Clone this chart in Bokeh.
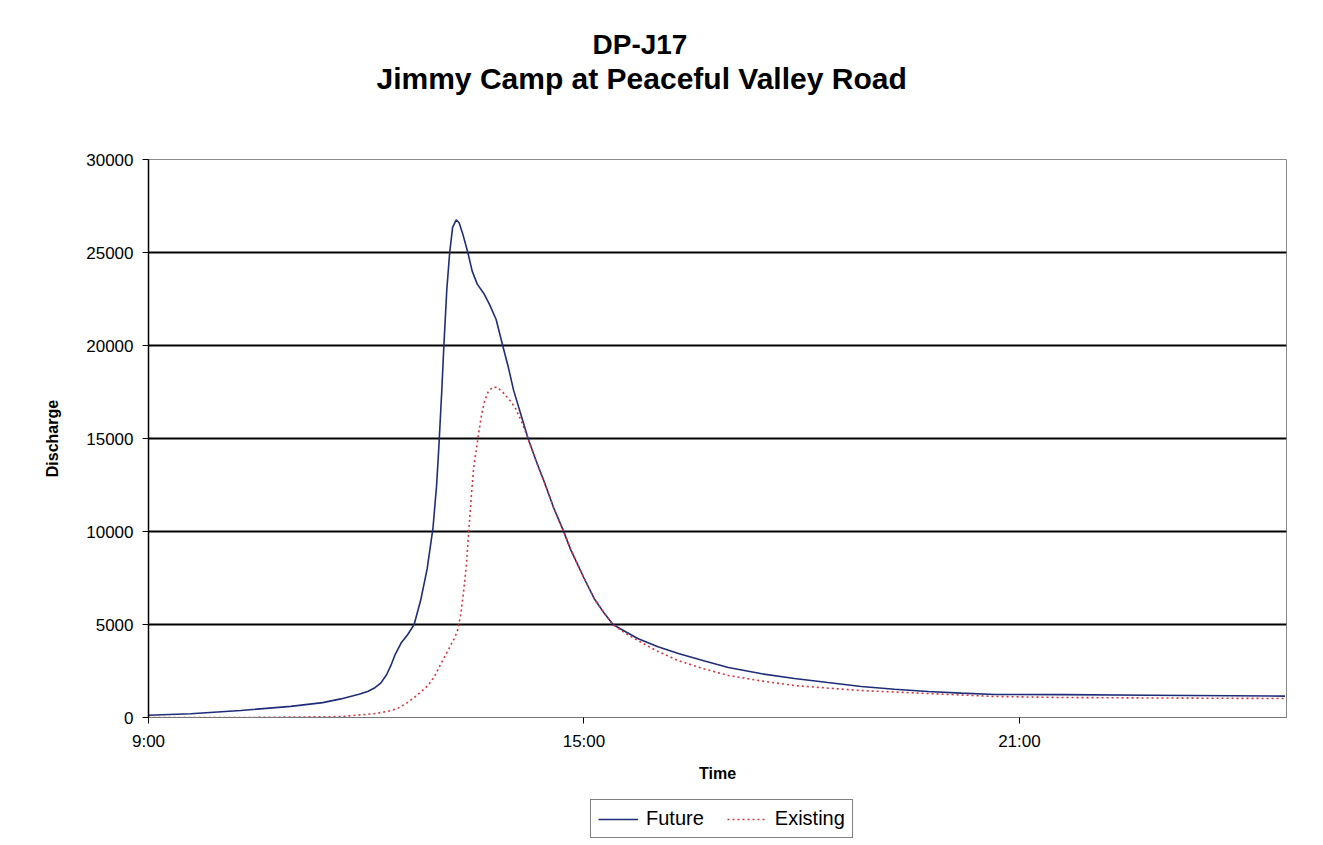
from bokeh.plotting import figure
from bokeh.models import Range1d, FixedTicker, Legend, LegendItem, Title
from bokeh.layouts import column
from bokeh.embed import file_html
from bokeh.resources import INLINE

# ---- data (time in decimal hours, discharge) ----
future_time = [9.00, 9.58, 10.27, 10.96, 11.40, 11.65, 11.90, 12.02, 12.12, 12.20,
               12.28, 12.34, 12.40, 12.48, 12.57, 12.66, 12.75, 12.84, 12.92, 12.97,
               13.00, 13.04, 13.07, 13.11, 13.15, 13.19, 13.24, 13.28, 13.33, 13.40,
               13.46, 13.53, 13.62, 13.70, 13.79, 13.88, 13.96, 14.03, 14.13, 14.23,
               14.34, 14.45, 14.58, 14.71, 14.82, 15.00, 15.14, 15.28, 15.40, 15.58,
               15.74, 16.02, 16.30, 16.65, 16.99, 17.45, 17.90, 18.36, 18.82, 19.28,
               19.74, 20.20, 20.66, 21.58, 22.80, 24.66]
future_q = [120, 200, 380, 600, 800, 1000, 1250, 1400, 1600, 1850,
            2300, 2800, 3400, 4000, 4450, 5000, 6300, 8000, 10200, 12500,
            14500, 17500, 20000, 23000, 25000, 26350, 26750, 26600, 26000, 25000,
            24000, 23300, 22800, 22200, 21400, 20000, 18800, 17600, 16300, 15000,
            13800, 12700, 11300, 10100, 9000, 7500, 6400, 5600, 5000, 4600,
            4250, 3800, 3440, 3050, 2690, 2350, 2100, 1880, 1670, 1520,
            1400, 1310, 1240, 1230, 1200, 1150]

existing_time = [9.00, 10.41, 11.65, 12.10, 12.30, 12.43, 12.55, 12.66, 12.76, 12.85,
                 12.94, 13.03, 13.14, 13.22, 13.26, 13.30, 13.34, 13.38, 13.41, 13.45,
                 13.48, 13.52, 13.55, 13.59, 13.63, 13.68, 13.74, 13.80, 13.88, 13.99,
                 14.06, 14.13, 14.23, 14.34, 14.45, 14.58, 14.71, 14.82, 15.00, 15.14,
                 15.28, 15.40, 15.58, 15.74, 16.02, 16.30, 16.65, 16.99, 17.45, 17.90,
                 18.36, 18.82, 19.74, 20.66, 21.58, 22.80, 24.66]
existing_q = [0, 0, 50, 200, 330, 480, 750, 1070, 1400, 1720,
              2200, 2900, 3700, 4300, 4700, 5500, 6700, 8200, 9900, 12000,
              13400, 14500, 15300, 16300, 17000, 17500, 17750, 17750, 17500, 17000,
              16600, 16000, 15000, 13800, 12700, 11300, 10100, 9000, 7500, 6400,
              5600, 5000, 4500, 4140, 3550, 3060, 2620, 2260, 1960, 1720,
              1580, 1450, 1290, 1130, 1075, 1050, 1020]

series_names = ["Future", "Existing"]
x_ticks = [9, 15, 21]
x_tick_labels = ["9:00", "15:00", "21:00"]
y_ticks = [0, 5000, 10000, 15000, 20000, 25000, 30000]
grid_values = [5000, 10000, 15000, 20000, 25000]

FONT = "Liberation Sans"
FUTURE_COLOR = "#1f2d78"
EXIST_COLOR = "#d8343f"

p = figure(width=1323, height=795, output_backend="svg", toolbar_location=None,
           x_range=Range1d(9, 24.68), y_range=Range1d(0, 30000),
           min_border_left=148, min_border_right=37,
           min_border_top=159, min_border_bottom=78)

p.background_fill_color = "white"
p.border_fill_color = "white"
p.outline_line_color = "#8a8a8a"
p.outline_line_width = 1

# titles: above[0] is nearest the frame, p.title is outermost
p.add_layout(Title(text=" ", text_font=FONT, text_font_size="10px",
                   standoff=52), "above")
p.add_layout(Title(text="Jimmy Camp at Peaceful Valley Road", align="left",
                   text_font=FONT, text_font_size="30px", text_font_style="bold",
                   text_color="black", offset=228, standoff=0), "above")
p.title.text = "DP-J17"
p.title.align = "left"
p.title.text_font = FONT
p.title.text_font_size = "28px"
p.title.text_font_style = "bold"
p.title.text_color = "black"
p.title.offset = 444
p.title.standoff = 0

# axes
p.xaxis.ticker = FixedTicker(ticks=x_ticks)
p.xaxis.major_label_overrides = {t: l for t, l in zip(x_ticks, x_tick_labels)}
p.xaxis.axis_label = "Time"
p.yaxis.ticker = FixedTicker(ticks=y_ticks)
p.yaxis.axis_label = "Discharge"
for ax in (p.xaxis, p.yaxis):
    ax.major_label_text_font = FONT
    ax.major_label_text_font_size = "17px"
    ax.major_label_text_color = "black"
    ax.axis_label_text_font = FONT
    ax.axis_label_text_font_size = "16px"
    ax.axis_label_text_font_style = "bold"
    ax.axis_label_text_color = "black"
    ax.minor_tick_line_color = None
    ax.major_tick_in = 0
    ax.major_tick_out = 6
    ax.major_tick_line_color = "black"
p.yaxis.axis_line_color = "black"
p.yaxis.axis_line_width = 1.5
p.xaxis.axis_line_color = "#777777"
p.xaxis.axis_line_width = 1
p.yaxis.major_label_standoff = 9
p.yaxis.axis_label_standoff = 22
p.xaxis.major_label_standoff = 8
p.xaxis.axis_label_standoff = 11

# grid
p.xgrid.grid_line_color = None
p.ygrid.ticker = FixedTicker(ticks=grid_values)
p.ygrid.grid_line_color = "black"
p.ygrid.grid_line_width = 2

# lines
p.line(future_time, future_q, line_color=FUTURE_COLOR, line_width=1.6)
p.line(existing_time, existing_q, line_color=EXIST_COLOR, line_width=1.6,
       line_dash="2 3")

# legend strip below the chart (its sample lines lie outside its visible range)
lg = figure(width=1323, height=50, output_backend="svg", toolbar_location=None,
            x_range=Range1d(0, 1), y_range=Range1d(0, 1),
            x_axis_type=None, y_axis_type=None,
            min_border_left=0, min_border_right=0, min_border_top=0,
            min_border_bottom=0)
lg.outline_line_color = None
lg.xgrid.grid_line_color = None
lg.ygrid.grid_line_color = None
lg_future = lg.line([-3, -2], [-3, -2], line_color=FUTURE_COLOR, line_width=1.6)
lg_exist = lg.line([-3, -2], [-3, -2], line_color=EXIST_COLOR, line_width=1.6,
                   line_dash="2 3")
legend = Legend(items=[LegendItem(label=series_names[0], renderers=[lg_future]),
                       LegendItem(label=series_names[1], renderers=[lg_exist])],
                orientation="horizontal", location=(442, 7))
legend.label_text_font = FONT
legend.label_text_font_size = "20px"
legend.label_text_color = "black"
legend.label_standoff = 8
legend.glyph_width = 40
legend.spacing = 23
legend.padding = 7
legend.margin = 0
legend.border_line_color = "black"
legend.border_line_width = 1.5
legend.background_fill_color = "white"
lg.add_layout(legend, "center")

layout = column(p, lg, spacing=0)
open("out.html", "w").write(file_html(layout, INLINE))
